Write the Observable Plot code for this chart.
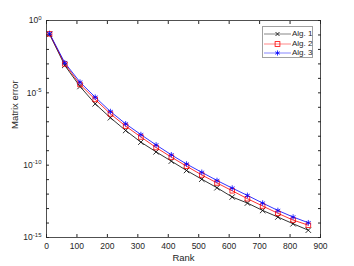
<!DOCTYPE html>
<html>
<head>
<meta charset="utf-8">
<script src="https://cdn.jsdelivr.net/npm/d3@7"></script>
<script src="https://cdn.jsdelivr.net/npm/@observablehq/plot@0.6"></script>
<style>
  html, body { margin: 0; padding: 0; background: #fff; }
  #wrap { position: relative; width: 354px; height: 266px; font-family: "Liberation Sans", Arial, sans-serif; }
  #legend { position: absolute; left: 262px; top: 26px; width: 51px; height: 32px; background: #fff; border: 1px solid #a0a0a0; box-sizing: border-box; font-size: 8px; color: #262626; }
  #legend .row { position: absolute; left: 0; height: 10px; width: 100%; }
  #legend svg { position: absolute; left: 1px; top: 0; }
  #legend span { position: absolute; left: 29px; top: 0; line-height: 10px; white-space: nowrap; }
</style>
</head>
<body>
<div id="wrap"><div id="legend"></div></div>
<script>
const ranks = [10, 60, 110, 160, 210, 260, 310, 360, 410, 460, 510, 560, 610, 660, 710, 760, 810, 860];
const seriesNames = ["Alg. 1", "Alg. 2", "Alg. 3"];
const seriesColors = ["#000000", "#ff0000", "#0000ff"];
const seriesSymbols = ["times", "square", "asterisk"];
const alg1 = [1.12e-1, 7.9e-4, 2.75e-5, 1.74e-6, 1.9e-7, 2.5e-8, 3.9e-9, 8.3e-10, 1.9e-10, 4.3e-11, 1.07e-11, 2.75e-12, 6.3e-13, 2.4e-13, 7.4e-14, 2.6e-14, 8.9e-15, 3.2e-15];
const alg2 = [1.2e-1, 1.0e-3, 3.8e-5, 3.5e-6, 3.5e-7, 5.0e-8, 8.9e-9, 1.66e-9, 3.6e-10, 8.5e-11, 2.1e-11, 5.9e-12, 1.7e-12, 4.8e-13, 1.5e-13, 4.7e-14, 1.6e-14, 7.1e-15];
const alg3 = [1.26e-1, 1.2e-3, 5.5e-5, 5.0e-6, 5.1e-7, 7.2e-8, 1.3e-8, 2.5e-9, 5.2e-10, 1.2e-10, 3.2e-11, 8.7e-12, 2.6e-12, 8.1e-13, 2.4e-13, 7.4e-14, 2.6e-14, 1.05e-14];
const xTicks = [0, 100, 200, 300, 400, 500, 600, 700, 800, 900];
const yTickExponents = [0, -1, -2, -3, -4, -5, -6, -7, -8, -9, -10, -11, -12, -13, -14, -15];
const yLabelExponents = [0, -5, -10, -15];

const allSeries = [alg1, alg2, alg3];
const data = [];
allSeries.forEach((vals, s) => vals.forEach((v, i) => data.push({rank: ranks[i], err: v, series: seriesNames[s]})));
const yTicks = yTickExponents.map(e => Math.pow(10, e));

const ink = "#262626";
const chart = Plot.plot({
  width: 354,
  height: 266,
  marginLeft: 46,
  marginRight: 34,
  marginTop: 20,
  marginBottom: 29,
  style: {fontFamily: "Liberation Sans, Arial, sans-serif", fontSize: "8.5px", color: ink, background: "#fff"},
  x: {domain: [0, 900]},
  y: {type: "log", domain: [1e-15, 1]},
  color: {domain: seriesNames, range: seriesColors},
  symbol: {domain: seriesNames, range: seriesSymbols},
  marks: [
    Plot.frame({stroke: ink, strokeWidth: 0.8}),
    Plot.axisX({anchor: "bottom", ticks: xTicks, tickSize: -3, tickPadding: 8, stroke: ink, fill: ink, fontSize: 8.5, label: null}),
    Plot.axisX({anchor: "top", ticks: xTicks, tickSize: -3, tickFormat: () => "", stroke: ink, label: null}),
    Plot.axisY({anchor: "left", ticks: yTicks, tickSize: -3, tickPadding: 8, stroke: ink, fill: ink, fontSize: 8.5,
      tickFormat: d => { const e = Math.round(Math.log10(d)); return yLabelExponents.includes(e) ? "10^" + e : ""; },
      label: null}),
    Plot.axisY({anchor: "right", ticks: yTicks, tickSize: -3, tickFormat: () => "", stroke: ink, label: null}),
    Plot.text(["Rank"], {frameAnchor: "bottom", dy: 20, fontSize: 9.5, fill: ink, lineAnchor: "middle"}),
    Plot.text(["Matrix error"], {frameAnchor: "left", dx: -32, rotate: -90, fontSize: 9.5, fill: ink}),
    Plot.line(data, {x: "rank", y: "err", z: "series", stroke: "series", strokeWidth: 0.8}),
    Plot.dot(data, {x: "rank", y: "err", symbol: "series", stroke: "series", fill: "none", r: 2.6, strokeWidth: 0.8})
  ]
});
document.getElementById("wrap").prepend(chart);

// superscript exponents for the log axis labels
chart.querySelectorAll("text").forEach(t => {
  const s = t.textContent;
  const m = /^10\^(-?\d+)$/.exec(s);
  if (m) {
    t.textContent = "10";
    const sup = document.createElementNS("http://www.w3.org/2000/svg", "tspan");
    sup.setAttribute("dy", "-3.5");
    sup.setAttribute("font-size", "6");
    sup.textContent = m[1];
    t.appendChild(sup);
  }
});

// legend
const legend = document.getElementById("legend");
const symPaths = {
  "times": '<path d="M-2,-2L2,2M2,-2L-2,2" fill="none"/>',
  "square": '<rect x="-2.4" y="-2.4" width="4.8" height="4.8" fill="none"/>',
  "asterisk": '<path d="M0,-2.6V2.6M-2.25,-1.3L2.25,1.3M-2.25,1.3L2.25,-1.3" fill="none"/>'
};
seriesNames.forEach((name, i) => {
  const row = document.createElement("div");
  row.className = "row";
  row.style.top = (2 + i * 9.5) + "px";
  row.innerHTML = `<svg width="28" height="10"><g stroke="${seriesColors[i]}" stroke-width="0.8"><line x1="0" x2="27" y1="5" y2="5" stroke-opacity="0.6"/><g transform="translate(13.5,5)">${symPaths[seriesSymbols[i]]}</g></g></svg><span>${name}</span>`;
  legend.appendChild(row);
});
</script>
</body>
</html>
